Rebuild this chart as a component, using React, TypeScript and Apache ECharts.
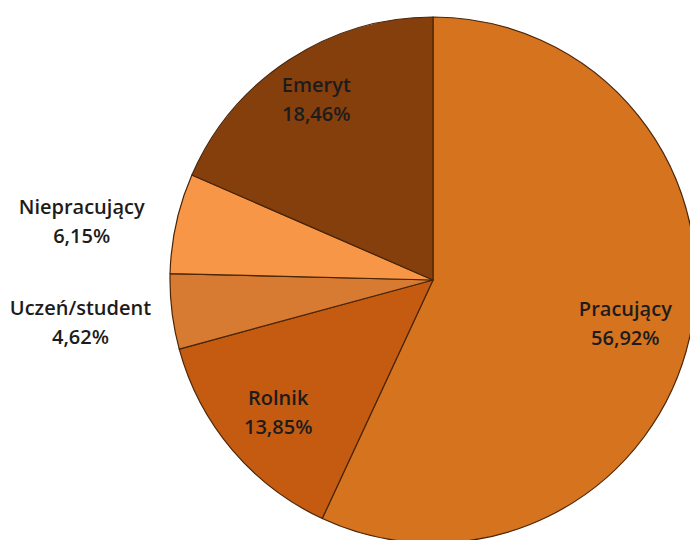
import React, { useEffect, useRef } from "react";
import * as echarts from "echarts";

const categories = ["Pracujący", "Rolnik", "Uczeń/student", "Niepracujący", "Emeryt"];
const values = [56.92, 13.85, 4.62, 6.15, 18.46];
const colors = ["#D5731F", "#C55A11", "#D87B32", "#F79646", "#843F0C"];
const labelOffsets: number[][] = [
  [61, 14],
  [-52, 45],
  [-219, 26],
  [-220, -30],
  [-43, -68],
];

export default function App() {
  const ref = useRef<HTMLDivElement>(null);
  useEffect(() => {
    document.body.style.margin = "0";
    const chart = echarts.init(ref.current!, null, { renderer: "svg" });
    chart.setOption({
      animation: false,
      backgroundColor: "#ffffff",
      series: [
        {
          type: "pie",
          center: [433, 280],
          radius: 263,
          startAngle: 90,
          clockwise: true,
          silent: true,
          labelLine: { show: false },
          itemStyle: { borderColor: "#4a2508", borderWidth: 1.2 },
          label: {
            show: true,
            position: "inside",
            formatter: (p: any) =>
              p.name + "\n" + p.value.toFixed(2).replace(".", ",") + "%",
            fontFamily: "Open Sans",
            fontWeight: 600,
            fontSize: 20,
            lineHeight: 29,
            color: "#1c1c1c",
            align: "center",
          },
          data: categories.map((c, i) => ({
            name: c,
            value: values[i],
            itemStyle: { color: colors[i] },
            label: { offset: labelOffsets[i] },
          })),
        },
      ],
    });
    return () => chart.dispose();
  }, []);
  return <div ref={ref} style={{ width: 690, height: 540 }} />;
}
